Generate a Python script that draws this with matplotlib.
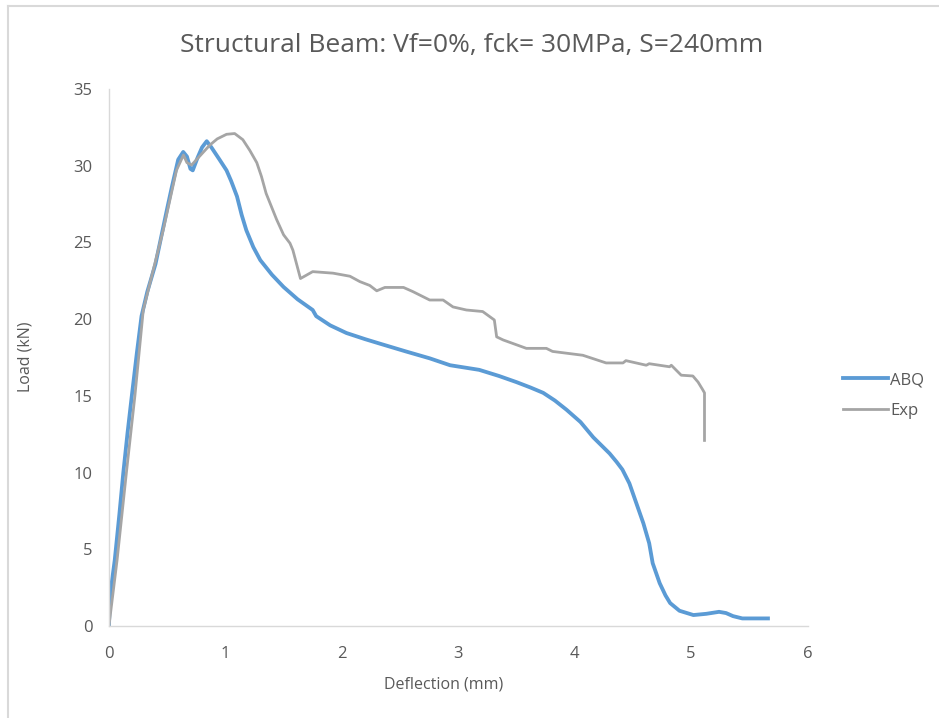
import matplotlib.pyplot as plt
from matplotlib.lines import Line2D

# ABQ (numerical) curve
abq_x = [0.0, 0.01, 0.05, 0.09, 0.123, 0.16, 0.195, 0.24, 0.28, 0.33, 0.40,
         0.45, 0.50, 0.54, 0.595, 0.638, 0.67, 0.70, 0.72, 0.76, 0.80, 0.84,
         0.88, 0.95, 1.01, 1.05, 1.10, 1.14, 1.18, 1.24, 1.30, 1.40, 1.50,
         1.62, 1.75, 1.78, 1.90, 2.04, 2.20, 2.33, 2.55, 2.755, 2.93, 3.18,
         3.35, 3.50, 3.62, 3.73, 3.83, 3.93, 4.05, 4.16, 4.30, 4.36, 4.41,
         4.47, 4.53, 4.59, 4.64, 4.67, 4.73, 4.78, 4.82, 4.90, 5.02, 5.13,
         5.24, 5.30, 5.36, 5.44, 5.55, 5.66]
abq_y = [0.0, 2.0, 4.3, 7.3, 9.95, 12.6, 14.9, 17.8, 20.2, 21.8, 23.6,
         25.4, 27.2, 28.6, 30.4, 30.9, 30.6, 29.8, 29.7, 30.5, 31.2, 31.6,
         31.2, 30.4, 29.7, 29.0, 28.0, 26.8, 25.8, 24.7, 23.85, 22.9, 22.1,
         21.3, 20.6, 20.2, 19.6, 19.1, 18.7, 18.4, 17.9, 17.45, 17.0, 16.7,
         16.3, 15.9, 15.55, 15.2, 14.7, 14.1, 13.3, 12.3, 11.25, 10.7, 10.2,
         9.3, 8.0, 6.7, 5.4, 4.1, 2.8, 2.0, 1.5, 1.0, 0.72, 0.8,
         0.93, 0.85, 0.65, 0.5, 0.5, 0.5]

# Experimental curve
exp_x = [0.0, 0.07, 0.15, 0.223, 0.295, 0.466, 0.58, 0.64, 0.67, 0.71, 0.867,
         0.93, 1.01, 1.08, 1.15, 1.21, 1.27, 1.31, 1.35, 1.44, 1.50, 1.555,
         1.58, 1.645, 1.75, 1.925, 2.07, 2.155, 2.24, 2.30, 2.37, 2.53, 2.61,
         2.755, 2.87, 2.955, 3.07, 3.21, 3.31, 3.33, 3.385, 3.585, 3.757, 3.81,
         4.07, 4.27, 4.415, 4.44, 4.615, 4.64, 4.815, 4.83, 4.915, 5.015, 5.06,
         5.10, 5.115, 5.115]
exp_y = [0.0, 4.3, 10.0, 15.0, 20.6, 25.8, 29.7, 30.7, 30.2, 30.05, 31.35,
         31.75, 32.05, 32.1, 31.7, 31.0, 30.2, 29.3, 28.2, 26.5, 25.5, 24.95,
         24.5, 22.65, 23.1, 23.0, 22.8, 22.45, 22.2, 21.85, 22.07, 22.07, 21.8,
         21.25, 21.25, 20.8, 20.6, 20.5, 19.95, 18.85, 18.65, 18.1, 18.1, 17.9,
         17.65, 17.15, 17.15, 17.3, 17.0, 17.1, 16.9, 17.0, 16.35, 16.3, 15.9,
         15.4, 15.2, 12.1]

x_ticks = [0, 1, 2, 3, 4, 5, 6]
y_ticks = [0, 5, 10, 15, 20, 25, 30, 35]

plt.rcParams['font.family'] = ['Open Sans', 'DejaVu Sans']
text_color = '#595959'
border_color = '#d9d9d9'

fig = plt.figure(figsize=(9.39, 7.18), dpi=100)
ax = fig.add_axes([0.116, 0.128, 0.744, 0.748])

ax.plot(abq_x, abq_y, color='#5B9BD5', lw=2.75, label='ABQ', solid_joinstyle='round')
ax.plot(exp_x, exp_y, color='#A5A5A5', lw=2.0, label='Exp', solid_joinstyle='round')

ax.set_xlim(0, 6)
ax.set_ylim(0, 35)
ax.set_xticks(x_ticks)
ax.set_yticks(y_ticks)
ax.tick_params(length=0, labelsize=12, colors=text_color)
ax.tick_params(axis='x', pad=14)
ax.tick_params(axis='y', pad=12)
for s in ['top', 'right']:
    ax.spines[s].set_visible(False)
for s in ['left', 'bottom']:
    ax.spines[s].set_color(border_color)
    ax.spines[s].set_linewidth(1.0)

# titles / axis labels placed like the original chart
fig.text(0.502, 0.937, 'Structural Beam: Vf=0%, fck= 30MPa, S=240mm',
         ha='center', va='center', fontsize=19, color=text_color)
fig.text(0.472, 0.046, 'Deflection (mm)', ha='center', va='center',
         fontsize=11.5, color=text_color)
fig.text(0.027, 0.503, 'Load (kN)', ha='center', va='center', rotation=90,
         fontsize=11.5, color=text_color)

leg = fig.legend(loc='center left', bbox_to_anchor=(0.898, 0.449), frameon=False,
                 fontsize=12, handlelength=2.7, labelspacing=0.9,
                 handletextpad=0.1, borderpad=0, borderaxespad=0)
for t in leg.get_texts():
    t.set_color(text_color)

# chart area border (left and top edges visible)
fig.add_artist(Line2D([0.008, 0.008], [0, 0.9916], color=border_color, lw=1.5))
fig.add_artist(Line2D([0.008, 1], [0.9916, 0.9916], color=border_color, lw=1.5))

fig.savefig('out.png', dpi=100)
